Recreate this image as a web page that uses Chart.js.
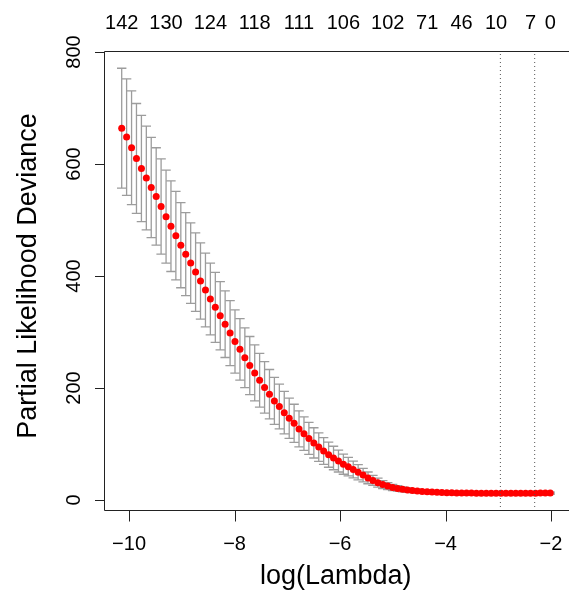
<!DOCTYPE html>
<html>
<head>
<meta charset="utf-8">
<title>cv.glmnet deviance</title>
<script src="https://cdn.jsdelivr.net/npm/chart.js@4.4.1/dist/chart.umd.min.js"></script>
<style>
  html, body { margin: 0; padding: 0; background: #ffffff; }
  canvas { display: block; }
</style>
</head>
<body>
<canvas id="cvPlot" width="569" height="599"></canvas>
<script>
// log(lambda) for each fitted lambda
const logLambda = [
  -10.140, -10.047, -9.953, -9.860, -9.766, -9.673, -9.580, -9.486, -9.393, -9.299,
  -9.206, -9.113, -9.019, -8.926, -8.832, -8.739, -8.646, -8.552, -8.459, -8.365,
  -8.272, -8.179, -8.085, -7.992, -7.898, -7.805, -7.712, -7.618, -7.525, -7.431,
  -7.338, -7.245, -7.151, -7.058, -6.964, -6.871, -6.778, -6.684, -6.591, -6.497,
  -6.404, -6.311, -6.217, -6.124, -6.030, -5.937, -5.844, -5.750, -5.657, -5.563,
  -5.470, -5.377, -5.283, -5.190, -5.096, -5.003, -4.910, -4.816, -4.723, -4.629,
  -4.536, -4.443, -4.349, -4.256, -4.162, -4.069, -3.976, -3.882, -3.789, -3.695,
  -3.602, -3.509, -3.415, -3.322, -3.228, -3.135, -3.042, -2.948, -2.855, -2.761,
  -2.668, -2.575, -2.481, -2.388, -2.294, -2.201, -2.108, -2.014
];

// mean cross-validated partial likelihood deviance
const meanDev = [
  664, 648, 629, 610, 592, 575, 558, 542, 524, 506,
  489, 472, 455, 439, 423, 407, 391, 375, 359, 344,
  329, 314, 298, 283, 269, 254, 240, 227, 214, 201,
  189, 177, 167, 156, 146, 137, 127, 118.5, 110, 102,
  94.5, 87.5, 81, 75, 69.5, 64, 59.5, 54.5, 49.5, 44.5,
  39.5, 35, 31, 27.5, 24.8, 22.5, 20.6, 19, 17.8, 16.8,
  15.9, 15.2, 14.6, 14.1, 13.7, 13.4, 13.1, 12.9, 12.7, 12.5,
  12.4, 12.3, 12.2, 12.1, 12.0, 12.0, 11.9, 11.9, 11.9, 12.0,
  12.0, 12.1, 12.1, 12.2, 12.2, 12.3, 12.3, 12.4
];

// standard error (half height of each error bar)
const seDev = [
  107, 104, 101.5, 98, 95, 92.5, 89.5, 87, 85, 83,
  81, 79, 76, 74, 72, 70, 68, 66, 64, 62.5,
  61, 59.5, 58, 56.5, 55, 53.5, 52, 50, 48, 46,
  44, 42, 40, 38, 36, 34, 32, 30, 28.5, 27,
  25.5, 24, 22.5, 21, 19.5, 18, 16.5, 15, 13.5, 12,
  10.5, 9, 8, 7, 6.2, 5.5, 4.9, 4.4, 4, 3.6,
  3.3, 3, 2.8, 2.6, 2.4, 2.3, 2.2, 2.1, 2, 1.9,
  1.9, 1.8, 1.8, 1.8, 1.7, 1.7, 1.7, 1.7, 1.7, 1.7,
  1.7, 1.7, 1.7, 1.7, 1.7, 1.7, 1.7, 1.7
];

// lambda.min and lambda.1se (dotted lines)
const lambdaLines = [-2.96, -2.31];

// number of nonzero coefficients shown along the top
const topLabels = ['142', '130', '124', '118', '111', '106', '102', '71', '46', '10', '7', '0'];
const topLabelAt = [-10.140, -9.299, -8.459, -7.618, -6.778, -5.937, -5.096, -4.349, -3.695, -3.042, -2.388, -2.014];

const xTicks = [-10, -8, -6, -4, -2];
const yTicks = [0, 200, 400, 600, 800];

const xTitle = 'log(Lambda)';
const yTitle = 'Partial Likelihood Deviance';

// axis ranges (R pads the data range by 4%)
const X_MIN = -10.4756, X_MAX = -1.735;
const Y_MIN = -19.64, Y_MAX = 801.79;

const FONT = '"Liberation Sans", Arial, Helvetica, sans-serif';
const minus = s => String(s).replace('-', '\u2212');

// R-style frame, ticks, labels and the error bars
const rFrame = {
  id: 'rFrame',
  beforeDatasetsDraw(chart) {
    const { ctx, scales: { x, y } } = chart;
    const capHalf = 4.7;
    ctx.save();
    ctx.strokeStyle = '#9c9c9c';
    ctx.lineWidth = 1.3;
    logLambda.forEach((lx, i) => {
      const px = x.getPixelForValue(lx);
      const hi = y.getPixelForValue(meanDev[i] + seDev[i]);
      const lo = y.getPixelForValue(meanDev[i] - seDev[i]);
      ctx.beginPath();
      ctx.moveTo(px, hi); ctx.lineTo(px, lo);
      ctx.moveTo(px - capHalf, hi); ctx.lineTo(px + capHalf, hi);
      ctx.moveTo(px - capHalf, lo); ctx.lineTo(px + capHalf, lo);
      ctx.stroke();
    });
    ctx.restore();
  },
  afterDraw(chart) {
    const { ctx, chartArea: area, scales: { x, y } } = chart;
    const L = area.left + 0.5, T = area.top + 0.5, B = area.bottom - 0.5;
    ctx.save();

    // box (right edge falls outside the canvas)
    ctx.strokeStyle = '#222';
    ctx.lineWidth = 1;
    ctx.beginPath();
    ctx.moveTo(chart.width + 5, T);
    ctx.lineTo(L, T);
    ctx.lineTo(L, B);
    ctx.lineTo(chart.width + 5, B);
    ctx.stroke();

    // ticks
    ctx.beginPath();
    xTicks.forEach(v => {
      const px = Math.round(x.getPixelForValue(v)) + 0.5;
      ctx.moveTo(px, B); ctx.lineTo(px, B + 11);
    });
    yTicks.forEach(v => {
      const py = Math.round(y.getPixelForValue(v)) + 0.5;
      ctx.moveTo(L, py); ctx.lineTo(L - 9.5, py);
    });
    ctx.stroke();

    ctx.fillStyle = '#000';
    ctx.font = '20px ' + FONT;
    ctx.textAlign = 'center';
    ctx.textBaseline = 'alphabetic';

    xTicks.forEach(v => ctx.fillText(minus(v), x.getPixelForValue(v), 550));
    topLabels.forEach((t, i) => ctx.fillText(t, x.getPixelForValue(topLabelAt[i]), 29));

    yTicks.forEach(v => {
      ctx.save();
      ctx.translate(80, y.getPixelForValue(v));
      ctx.rotate(-Math.PI / 2);
      ctx.fillText(String(v), 0, 0);
      ctx.restore();
    });

    // axis titles
    ctx.font = '27px ' + FONT;
    ctx.fillText(xTitle, (area.left + x.getPixelForValue(X_MAX + 0.05)) / 2, 584);
    ctx.save();
    ctx.translate(36, 276);
    ctx.rotate(-Math.PI / 2);
    ctx.fillText(yTitle, 0, 0);
    ctx.restore();

    ctx.restore();
  }
};

const points = logLambda.map((lx, i) => ({ x: lx, y: meanDev[i] }));

const vLine = lx => ({
  type: 'line',
  data: [{ x: lx, y: Y_MIN }, { x: lx, y: Y_MAX }],
  borderColor: '#555',
  borderWidth: 1,
  borderDash: [1, 3],
  pointRadius: 0,
  order: 0
});

new Chart(document.getElementById('cvPlot'), {
  type: 'scatter',
  data: {
    datasets: [
      {
        data: points,
        pointRadius: 3.5,
        pointBackgroundColor: '#ff0000',
        pointBorderWidth: 0,
        order: 1
      },
      ...lambdaLines.map(vLine)
    ]
  },
  options: {
    responsive: false,
    animation: false,
    devicePixelRatio: 1,
    layout: { padding: { left: 104, right: 0, top: 51, bottom: 88 } },
    plugins: { legend: { display: false }, tooltip: { enabled: false } },
    scales: {
      x: { type: 'linear', display: false, min: X_MIN, max: X_MAX },
      y: { type: 'linear', display: false, min: Y_MIN, max: Y_MAX }
    }
  },
  plugins: [rFrame]
});
</script>
</body>
</html>
